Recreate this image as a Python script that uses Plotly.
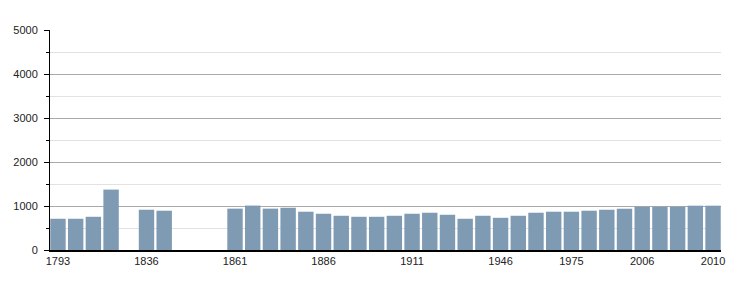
import plotly.graph_objects as go

years = ["1793", "1800", "1806", "1821", "1831", "1836", "1841", "1846", "1851", "1856",
         "1861", "1866", "1872", "1876", "1881", "1886", "1891", "1896", "1901", "1906",
         "1911", "1921", "1926", "1931", "1936", "1946", "1954", "1962", "1968", "1975",
         "1982", "1990", "1999", "2006", "2007", "2008", "2009", "2010"]
population = [710, 710, 755, 1373, None, 915, 893, None, None, None,
              940, 1010, 940, 960, 870, 824, 778, 755, 755, 778,
              824, 847, 801, 710, 778, 732, 778, 847, 870, 870,
              893, 915, 938, 984, 984, 984, 1007, 1007]
tick_years = ["1793", "1836", "1861", "1886", "1911", "1946", "1975", "2006", "2010"]

fig = go.Figure(go.Bar(
    x=years, y=population,
    marker=dict(color="#7f9ab3", line=dict(width=0)),
    hoverinfo="x+y",
))

font = dict(family="Liberation Sans, Arial, Helvetica, sans-serif", size=11, color="#222222")

fig.update_layout(
    width=750, height=300,
    margin=dict(l=50, r=29, t=30, b=50),
    paper_bgcolor="white", plot_bgcolor="white",
    bargap=0.13,
    showlegend=False,
    font=font,
    xaxis=dict(
        type="category",
        categoryorder="array", categoryarray=years,
        range=[-0.45, 37.45],
        tickmode="array", tickvals=tick_years, ticktext=tick_years,
        ticks="", showgrid=False,
        showline=True, linecolor="black", linewidth=2,
        tickfont=font, fixedrange=True,
    ),
    yaxis=dict(
        range=[0, 5000],
        tickmode="linear", tick0=0, dtick=1000,
        ticks="outside", ticklen=5, tickcolor="black", tickwidth=1,
        showgrid=True, gridcolor="#aaaaaa", gridwidth=1,
        showline=True, linecolor="black", linewidth=1,
        zeroline=False,
        minor=dict(dtick=500, ticks="outside", ticklen=3, tickcolor="black",
                   showgrid=True, gridcolor="#e2e2e2", gridwidth=1),
        ticklabelstandoff=4,
        tickfont=font, fixedrange=True,
    ),
)

fig.write_html("out.html", config={"displayModeBar": False})
